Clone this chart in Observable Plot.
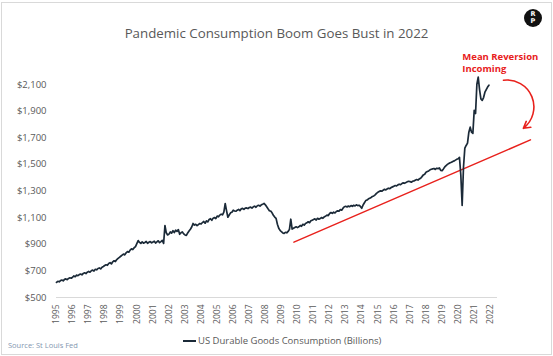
<!DOCTYPE html>
<html>
<head>
<meta charset="utf-8">
<script src="https://cdn.jsdelivr.net/npm/d3@7"></script>
<script src="https://cdn.jsdelivr.net/npm/@observablehq/plot@0.6"></script>
<style>
  html, body { margin: 0; padding: 0; background: #fff; }
  #wrap { position: relative; width: 553px; height: 356px; overflow: hidden; font-family: "Open Sans", sans-serif; }
  #frame { position: absolute; left: 1px; top: 2px; width: 549px; height: 351px; border: 1px solid #d9d9d9; pointer-events: none; }
  #chart { position: absolute; left: 0; top: 0; }
  #title { position: absolute; left: 0; top: 24px; width: 553px; text-align: center; font-size: 13.3px; line-height: 18px; color: #595959; }
  #logo { position: absolute; left: 524px; top: 9px; width: 18px; height: 18px; border-radius: 50%; background: #111; color: #fff; font: bold 6.5px/7.5px "DejaVu Sans", sans-serif; text-align: center; padding-top: 1.5px; box-sizing: border-box; }
  #legend { position: absolute; left: 183px; top: 334px; font-size: 9.5px; line-height: 14px; color: #595959; display: flex; align-items: center; }
  #legend .sw { width: 13px; height: 1.5px; background: #1b2a38; margin-right: 2px; }
  #source { position: absolute; left: 8px; top: 339px; font-size: 7.5px; line-height: 12px; color: #8497b0; }
</style>
</head>
<body>
<div id="wrap">
  <div id="chart"></div>
  <div id="title">Pandemic Consumption Boom Goes Bust in 2022</div>
  <div id="logo">R<br>P</div>
  <div id="legend"><span class="sw"></span><span>US Durable Goods Consumption (Billions)</span></div>
  <div id="source">Source: St Louis Fed</div>
  <div id="frame"></div>
</div>
<script>
// Monthly US durable goods consumption, $ billions, Jan 1995 .. Dec 2021
const startYear = 1995;
const consumption = [
  613, 622, 618, 627, 631, 625, 636, 640, 634, 643, 648, 645,       // 1995
  652, 662, 656, 668, 664, 672, 676, 670, 681, 686, 680, 690,       // 1996
  696, 690, 701, 706, 699, 712, 708, 718, 722, 715, 727, 733,       // 1997
  740, 746, 742, 756, 762, 752, 768, 776, 770, 785, 794, 802,       // 1998
  810, 818, 826, 820, 836, 845, 840, 856, 866, 860, 874, 882,       // 1999
  905, 928, 914, 906, 918, 908, 913, 921, 907, 915, 920, 911,       // 2000
  916, 923, 909, 918, 926, 912, 920, 929, 906, 1041, 986, 970,      // 2001
  976, 992, 983, 1002, 988, 1006, 996, 1010, 975, 986, 993, 978,    // 2002
  970, 966, 985, 1000, 1013, 1030, 1056, 1044, 1050, 1040, 1048, 1056, // 2003
  1052, 1063, 1071, 1058, 1076, 1068, 1086, 1092, 1080, 1096, 1101, 1093, // 2004
  1112, 1106, 1119, 1126, 1121, 1142, 1206, 1152, 1103, 1120, 1136, 1141, // 2005
  1156, 1150, 1148, 1156, 1162, 1152, 1166, 1169, 1162, 1171, 1173, 1168, // 2006
  1176, 1179, 1172, 1181, 1186, 1178, 1189, 1193, 1186, 1196, 1201, 1207, // 2007
  1196, 1181, 1166, 1152, 1149, 1136, 1118, 1104, 1094, 1050, 1020, 1004, // 2008
  994, 985, 981, 990, 986, 996, 1012, 1088, 1014, 1020, 1026, 1031,       // 2009
  1025, 1031, 1041, 1035, 1050, 1044, 1056, 1061, 1069, 1062, 1076, 1081, // 2010
  1086, 1091, 1082, 1095, 1088, 1093, 1101, 1095, 1106, 1111, 1119, 1115, // 2011
  1131, 1138, 1132, 1141, 1135, 1146, 1151, 1148, 1161, 1156, 1171, 1182, // 2012
  1185, 1180, 1187, 1182, 1191, 1185, 1193, 1188, 1196, 1190, 1193, 1184, // 2013
  1170, 1195, 1212, 1228, 1232, 1241, 1246, 1251, 1259, 1263, 1271, 1282, // 2014
  1290, 1296, 1301, 1298, 1306, 1313, 1308, 1316, 1321, 1318, 1326, 1331, // 2015
  1336, 1341, 1338, 1346, 1351, 1348, 1356, 1361, 1358, 1363, 1369, 1373, // 2016
  1371, 1366, 1373, 1376, 1381, 1386, 1382, 1391, 1396, 1408, 1421, 1426, // 2017
  1441, 1446, 1451, 1459, 1463, 1466, 1469, 1462, 1471, 1468, 1473, 1455, // 2018
  1452, 1466, 1481, 1491, 1500, 1506, 1512, 1516, 1522, 1526, 1532, 1538, // 2019
  1542, 1553, 1420, 1192, 1480, 1622, 1642, 1660, 1742, 1780, 1742, 1733, // 2020
  1906, 1882, 2102, 2156, 2062, 1992, 1981, 2002, 2042, 2062, 2081, 2095  // 2021
];

const tickYears = d3.range(1995, 2023);
const tickValues = [500, 700, 900, 1100, 1300, 1500, 1700, 1900, 2100];

// hand-drawn mean-reversion trend line (year, value)
const trendYears = [2009.78, 2024.5];
const trendValues = [916, 1684];

// curved annotation arrow (year, value)
const arrowFrom = {year: 2022.82, value: 2132};
const arrowTo = {year: 2024.06, value: 1771};

const annotation = "Mean Reversion\nIncoming";

const series = consumption.map((v, i) => ({t: startYear + i / 12, v}));
const trend = trendYears.map((t, i) => ({t, v: trendValues[i]}));

const navy = "#1b2a38";
const red = "#e8211c";

const plot = Plot.plot({
  width: 553,
  height: 356,
  marginTop: 84,
  marginBottom: 59,
  marginLeft: 56,
  marginRight: 56,
  style: {fontFamily: "'Open Sans', sans-serif", background: "transparent", overflow: "visible"},
  x: {type: "linear", domain: [1995, 2022.45]},
  y: {domain: [500, 2100]},
  marks: [
    Plot.ruleY([500], {stroke: "#d9d9d9", strokeWidth: 1}),
    Plot.axisY({ticks: tickValues, tickSize: 0, tickPadding: 10, tickFormat: d => "$" + d3.format(",")(d), fontSize: 9.5, color: "#595959", label: null}),
    Plot.axisX({ticks: tickYears, tickSize: 0, tickPadding: 7, tickRotate: -90, tickFormat: d => String(d), fontSize: 8.5, color: "#595959", label: null}),
    Plot.line(trend, {x: "t", y: "v", stroke: red, strokeWidth: 1.5}),
    Plot.line(series, {x: "t", y: "v", stroke: navy, strokeWidth: 1.7}),
    Plot.arrow([arrowFrom], {x1: d => d.year, y1: d => d.value, x2: () => arrowTo.year, y2: () => arrowTo.value, bend: 75, stroke: red, strokeWidth: 1.6, headLength: 7}),
    Plot.text([annotation], {x: () => 2020.26, y: () => 2352, text: d => d, textAnchor: "start", lineAnchor: "top", lineHeight: 1.32, fill: red, fontWeight: "bold", fontSize: 9.5})
  ]
});
document.getElementById("chart").appendChild(plot);
</script>
</body>
</html>
